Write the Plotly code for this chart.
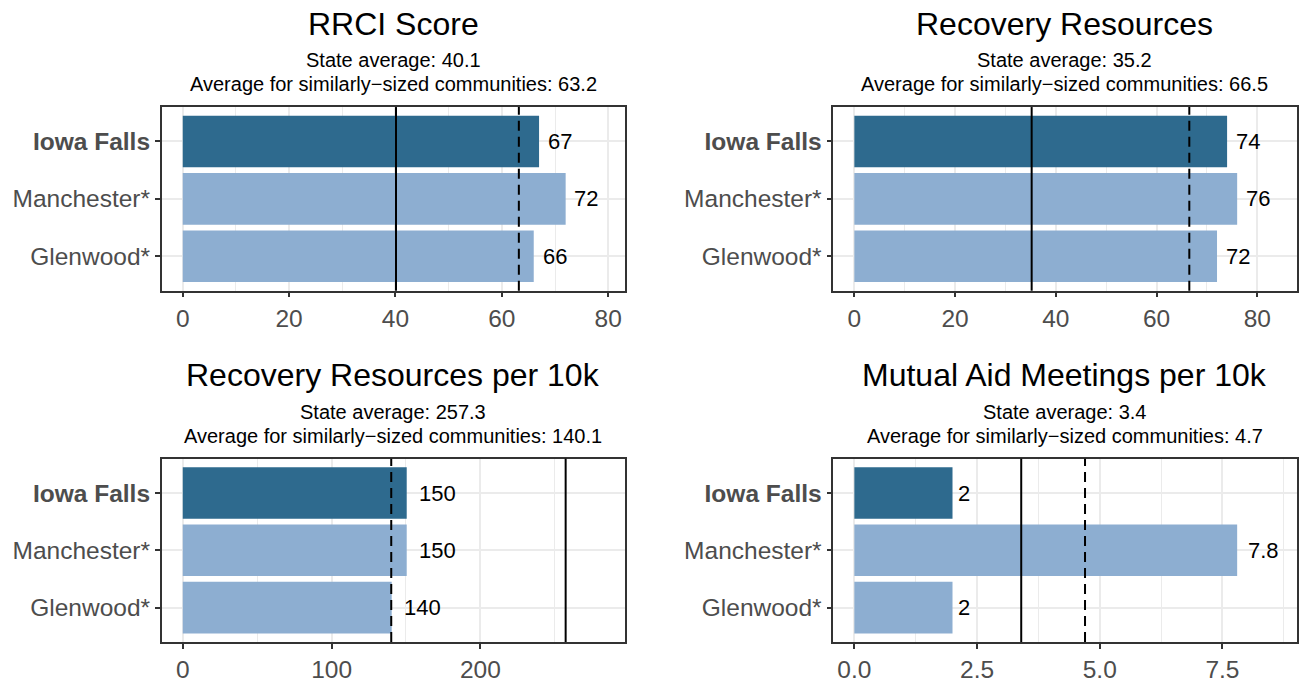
import plotly.graph_objects as go

# ---------------- data ----------------
communities = ["Iowa Falls", "Manchester*", "Glenwood*"]
highlight = "Iowa Falls"

panel_titles = ["RRCI Score", "Recovery Resources",
                "Recovery Resources per 10k", "Mutual Aid Meetings per 10k"]

rrci_score = [67, 72, 66]
recovery_resources = [74, 76, 72]
resources_per_10k = [150.5, 150.5, 140.4]
meetings_per_10k = [2.0, 7.8, 2.0]

state_avg = [40.1, 35.2, 257.3, 3.4]
similar_avg = [63.2, 66.5, 140.1, 4.7]

major_dtick = [20, 20, 100, 2.5]
tick_formats = ["d", "d", "d", ".1f"]

series = [rrci_score, recovery_resources, resources_per_10k, meetings_per_10k]

# ---------------- style ----------------
FONT = "Liberation Sans, Arial, Helvetica, sans-serif"
DARK = "#2E6A8E"
LIGHT = "#8DAED1"
GRID = "#EBEBEB"
BORDER = "#333333"
TICKTXT = "#4D4D4D"

W, H = 1299, 683
# panel pixel boxes (left, right, top, bottom)
px_x = [(161.7, 625.0), (833.3, 1296.5)]
px_y = [(108.0, 293.3), (462.7, 647.7)]


def fx(p):
    return p / W


def fy(p):
    return 1 - p / H


def signif2(v):
    return f"{float(f'{v:.2g}'):g}"


def text_width(s, size):
    w = 0
    for ch in s:
        w += 0.278 if ch == "." else 0.556
    return w * size


fig = go.Figure()
annotations = []
shapes = []

cat_order = list(reversed(communities))
ticktext_map = {c: (f"<b>{c}</b>" if c == highlight else c) for c in communities}

for i, vals in enumerate(series):
    r, c = divmod(i, 2)
    ax = "" if i == 0 else str(i + 1)
    xa, ya = "x" + ax, "y" + ax
    colors = [DARK if cm == highlight else LIGHT for cm in communities]
    fig.add_trace(go.Bar(
        x=vals, y=communities, orientation="h", marker=dict(color=colors, line=dict(width=0)),
        width=0.9, xaxis=xa, yaxis=ya, showlegend=False, hoverinfo="x+y"))

    M = 1.1 * max(max(vals), state_avg[i], similar_avg[i])
    rng = [-0.05 * M, 1.05 * M]
    d = major_dtick[i]
    tv = []
    t = 0.0
    while t <= rng[1] + 1e-9:
        tv.append(t)
        t += d

    xdom = [fx(px_x[c][0]), fx(px_x[c][1])]
    ydom = [fy(px_y[r][1]), fy(px_y[r][0])]

    fig.layout["xaxis" + ax] = dict(
        domain=xdom, anchor=ya, range=rng, tickmode="array", tickvals=tv,
        tickformat=tick_formats[i], showgrid=True, gridcolor=GRID, gridwidth=1.5,
        minor=dict(tick0=d / 2, dtick=d, showgrid=True, gridcolor=GRID, gridwidth=0.8),
        zeroline=False, showline=True, mirror=True, linecolor=BORDER, linewidth=1.5,
        ticks="outside", ticklen=5, tickwidth=1.5, tickcolor=BORDER,
        tickfont=dict(family=FONT, size=24.5, color=TICKTXT), fixedrange=True)
    fig.layout["yaxis" + ax] = dict(
        domain=ydom, anchor=xa, type="category", categoryorder="array",
        categoryarray=cat_order, range=[-0.6, 2.6],
        tickmode="array", tickvals=communities,
        ticktext=[ticktext_map[cm] for cm in communities],
        showgrid=True, gridcolor=GRID, gridwidth=1.5, zeroline=False,
        showline=True, mirror=True, linecolor=BORDER, linewidth=1.5,
        ticks="outside", ticklen=5, tickwidth=1.5, tickcolor=BORDER,
        tickfont=dict(family=FONT, size=24.5, color=TICKTXT), fixedrange=True)

    # reference lines
    shapes.append(dict(type="line", xref=xa, yref=ya + " domain", x0=state_avg[i], x1=state_avg[i],
                       y0=0, y1=1, line=dict(color="black", width=2)))
    shapes.append(dict(type="line", xref=xa, yref=ya + " domain", x0=similar_avg[i], x1=similar_avg[i],
                       y0=0, y1=1, line=dict(color="black", width=2, dash="10px,6px")))

    # value labels
    for cm, v in zip(communities, vals):
        lab = signif2(v)
        annotations.append(dict(
            x=v, y=cm, xref=xa, yref=ya, text=lab, showarrow=False, xanchor="left",
            yanchor="middle", xshift=0.28 * text_width(lab, 22),
            font=dict(family=FONT, size=22, color="black")))

    # titles
    cx = fx((px_x[c][0] + px_x[c][1]) / 2)
    top = px_y[r][0]
    annotations.append(dict(
        x=cx, y=fy(top - 84), xref="paper", yref="paper", text=panel_titles[i],
        showarrow=False, xanchor="center", yanchor="middle",
        font=dict(family=FONT, size=32, color="black")))
    annotations.append(dict(
        x=cx, y=fy(top - 47), xref="paper", yref="paper",
        text=f"State average: {state_avg[i]:.1f}",
        showarrow=False, xanchor="center", yanchor="middle",
        font=dict(family=FONT, size=20, color="black")))
    annotations.append(dict(
        x=cx, y=fy(top - 23), xref="paper", yref="paper",
        text=f"Average for similarly\u2212sized communities: {similar_avg[i]:.1f}",
        showarrow=False, xanchor="center", yanchor="middle",
        font=dict(family=FONT, size=20, color="black")))

fig.update_layout(
    width=W, height=H, margin=dict(l=0, r=0, t=0, b=0),
    paper_bgcolor="white", plot_bgcolor="white",
    annotations=annotations, shapes=shapes, bargap=0.1,
    font=dict(family=FONT))

fig.write_html(
    "out.html",
    config={"displayModeBar": False},
    post_script="document.body.style.margin='0';document.body.style.overflow='hidden';")
